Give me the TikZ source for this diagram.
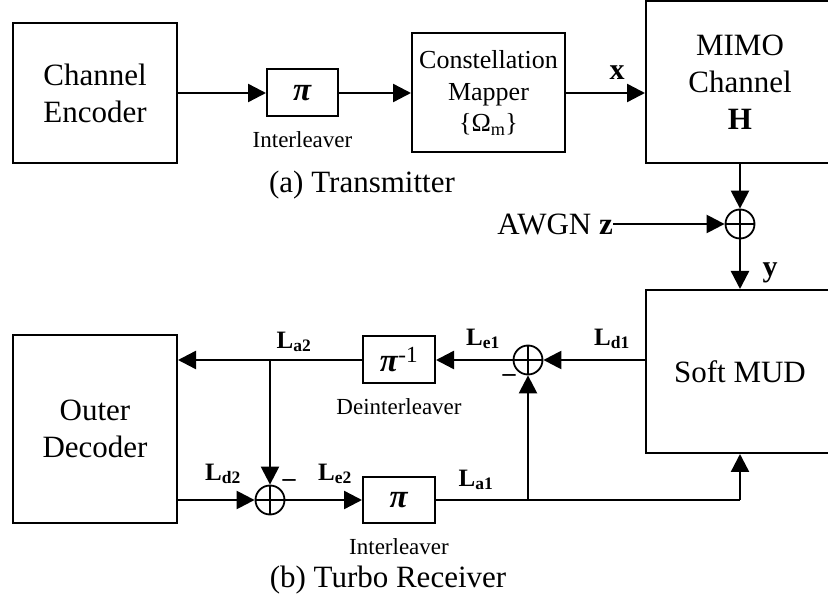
\documentclass[tikz,border=0pt]{standalone}
\usepackage{fontspec}
\setmainfont{Liberation Serif}
\usetikzlibrary{arrows.meta}
\newcommand\bigfnt{\fontsize{31}{37}\selectfont}
\newcommand\medfnt{\fontsize{26}{31.5}\selectfont}
\newcommand\smlfnt{\fontsize{23}{27}\selectfont}
\newcommand\lblfnt{\fontsize{25}{29}\selectfont\bfseries}
\newcommand\myL[1]{L\textsubscript{#1}}
\begin{document}
\begin{tikzpicture}[x=1pt,y=-1pt,
  box/.style={draw,line width=2pt,inner sep=0pt,align=center,font=\bigfnt},
  sumnode/.style={draw,circle,line width=1.8pt,minimum size=29pt,inner sep=0pt,
    path picture={\draw[line width=1.6pt] (path picture bounding box.north) -- (path picture bounding box.south)
      (path picture bounding box.west) -- (path picture bounding box.east);}},
  arr/.style={line width=2.4pt,-{Triangle[length=18pt,width=18pt]}},
  conn/.style={line width=2.4pt},
  txt/.style={font=\bigfnt,inner sep=0pt},
  small/.style={font=\smlfnt,inner sep=0pt},
  lbl/.style={font=\lblfnt,inner sep=0pt},
  minus/.style={font=\fontsize{26}{30}\selectfont\bfseries,inner sep=0pt}]
\useasboundingbox (0,0) rectangle (828,601);
% transmitter
\node[box,minimum width=164pt,minimum height=140pt] (enc) at (95,93) {Channel\\Encoder};
\node[box,minimum width=71pt,minimum height=47pt] (pi1) at (302.5,93) {\fontsize{33}{36}\selectfont\textbf{\textit{π}}};
\node[small] (il1) at (302.5,140) {Interleaver};
\node[box,font=\medfnt,minimum width=153pt,minimum height=119pt] (map) at (488.5,93) {Constellation\\Mapper\\\{Ω\textsubscript{m}\}};
\node[box,minimum width=188pt,minimum height=162pt] (mimo) at (740,82) {MIMO\\Channel\\\textbf{H}};
\node[txt] (capa) at (362,185) {(a) Transmitter};
\node[font=\fontsize{30}{32}\selectfont\bfseries,inner sep=0pt] (xl) at (617,73) {x};
\node[sumnode] (s1) at (740,224) {};
\node[txt,anchor=east] (awgn) at (613,224) {AWGN \textbf{z}};
\node[font=\fontsize{30}{32}\selectfont\bfseries,inner sep=0pt] (yl) at (770,273) {y};
% receiver
\node[box,minimum width=188pt,minimum height=163pt] (mud) at (740,371.5) {Soft MUD};
\node[sumnode] (s2) at (528,360) {};
\node[box,minimum width=72pt,minimum height=47pt] (deint) at (399,360) {\fontsize{33}{36}\selectfont\textbf{\textit{π}}\textsuperscript{-1}};
\node[small] (dil) at (399,407) {Deinterleaver};
\node[box,minimum width=164pt,minimum height=188pt] (dec) at (95,429) {Outer\\Decoder};
\node[sumnode] (s3) at (270,500) {};
\node[box,minimum width=72pt,minimum height=46pt] (pi2) at (399,500) {\fontsize{33}{36}\selectfont\textbf{\textit{π}}};
\node[small] (il2) at (399,547) {Interleaver};
\node[txt] (capb) at (388,580) {(b) Turbo Receiver};
\coordinate (b1) at (270,360);
\coordinate (b2) at (528,500);
\coordinate (b3) at (740,500);
% labels
\node[lbl] (ld1) at (612,339) {\myL{d1}};
\node[lbl] (le1) at (483,339) {\myL{e1}};
\node[lbl] (la2) at (294,342) {\myL{a2}};
\node[lbl] (ld2) at (223,474) {\myL{d2}};
\node[lbl] (le2) at (335,474) {\myL{e2}};
\node[lbl] (la1) at (476,480) {\myL{a1}};
\node[minus] (m1) at (509,378) {–};
\node[minus] (m2) at (289,483) {–};
% connectors
\draw[arr] (enc.east |- pi1) -- (pi1.west);
\draw[arr] (pi1.east) -- (pi1.east -| map.west);
\draw[arr] (map.east) -- (map.east -| mimo.west);
\draw[arr] (mimo.south -| s1) -- (s1.north);
\draw[arr] (awgn.east) -- (s1.west);
\draw[arr] (s1.south) -- (s1.south |- mud.north);
\draw[arr] (s2 -| mud.west) -- (s2.east);
\draw[arr] (s2.west) -- (s2 -| deint.east);
\draw[arr] (deint.west) -- (deint.west -| dec.east);
\draw[arr] (b1) -- (s3.north);
\draw[arr] (s3 -| dec.east) -- (s3.west);
\draw[arr] (s3.east) -- (pi2.west);
\draw[conn] (pi2.east) -- (b3);
\draw[arr] (b3) -- (b3 |- mud.south);
\draw[arr] (b2) -- (s2.south);
\end{tikzpicture}
\end{document}
